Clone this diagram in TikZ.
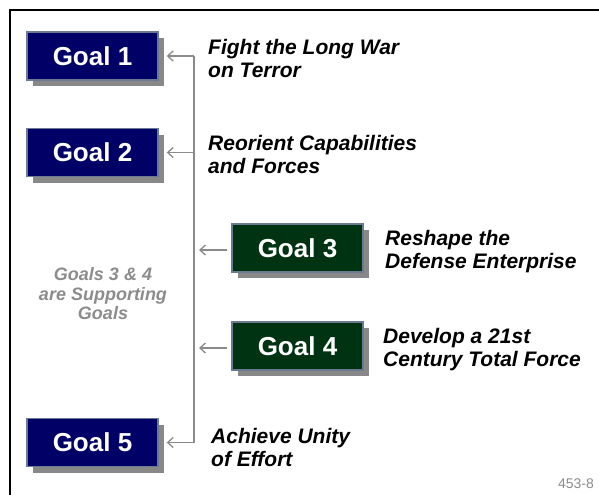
\documentclass[tikz,border=0pt]{standalone}
\usepackage{fontspec}
\setmainfont{Liberation Sans}
\usetikzlibrary{shadows,arrows.meta}
\definecolor{navy}{HTML}{000066}
\definecolor{dkgreen}{HTML}{003311}
\definecolor{boxedge}{HTML}{6A7A90}
\definecolor{shadowgray}{HTML}{888888}
\definecolor{linegray}{HTML}{8A8A8A}
\definecolor{notegray}{HTML}{8C8C8C}
\tikzset{
  goalbox/.style={draw=boxedge, line width=1.4pt, minimum width=131pt, minimum height=48pt,
    inner sep=0pt, text=white, font=\fontsize{26}{28}\selectfont\bfseries,
    drop shadow={shadow xshift=6pt, shadow yshift=-6pt, fill=shadowgray, opacity=1}},
  bluebox/.style={goalbox, fill=navy},
  greenbox/.style={goalbox, fill=dkgreen},
  label/.style={anchor=west, align=left, inner sep=0pt,
    font=\fontsize{21}{23}\selectfont\bfseries\itshape},
  conn/.style={draw=linegray, line width=1.6pt},
  arr/.style={conn, -{Straight Barb[length=5.5pt, width=10pt, line width=1.3pt]}},
}
\begin{document}
\begin{tikzpicture}[x=1pt, y=-1pt]
\useasboundingbox (0,0) rectangle (599,495);
% frame
\draw[line width=2pt] (10,495) -- (10,10) -- (599,10);
% boxes
\node[bluebox] (g1) at (92.5,56) {Goal 1};
\node[bluebox] (g2) at (92.5,152.5) {Goal 2};
\node[greenbox] (g3) at (297.5,248) {Goal 3};
\node[greenbox] (g4) at (297.5,346) {Goal 4};
\node[bluebox] (g5) at (92.5,442.5) {Goal 5};
% labels
\node[label] (l1) at (208,58.5) {Fight the Long War\\on Terror};
\node[label] (l2) at (208,154.5) {Reorient Capabilities\\and Forces};
\node[label] (l3) at (385,252) {Reshape the\\Defense Enterprise};
\node[label] (l4) at (383,350) {Develop a 21st\\Century Total Force};
\node[label] (l5) at (211,447) {Achieve Unity\\of Effort};
\node[align=center, inner sep=0pt, text=notegray,
  font=\fontsize{18}{19.5}\selectfont\bfseries\itshape] (note) at (103,294)
  {Goals 3 \& 4\\are Supporting\\Goals};
\node[anchor=east, inner sep=0pt, text=notegray, font=\fontsize{14}{16}\selectfont] (num) at (594,483.5) {453-8};
% connectors
\coordinate (top) at (194,56);
\coordinate (bot) at (194,442.5);
\coordinate (j2) at (194,152.5);
\coordinate (j3) at (199,250);
\coordinate (j4) at (199,348);
\draw[conn] (top) -- (bot);
\draw[arr] (top) -- ([xshift=8pt]g1.east);
\draw[arr] (j2) -- ([xshift=8pt]g2.east);
\draw[arr] (bot) -- ([xshift=8pt]g5.east);
\draw[arr] ([xshift=-4pt,yshift=-2pt]g3.west) -- (j3);
\draw[arr] ([xshift=-4pt,yshift=-2pt]g4.west) -- (j4);
\end{tikzpicture}
\end{document}
